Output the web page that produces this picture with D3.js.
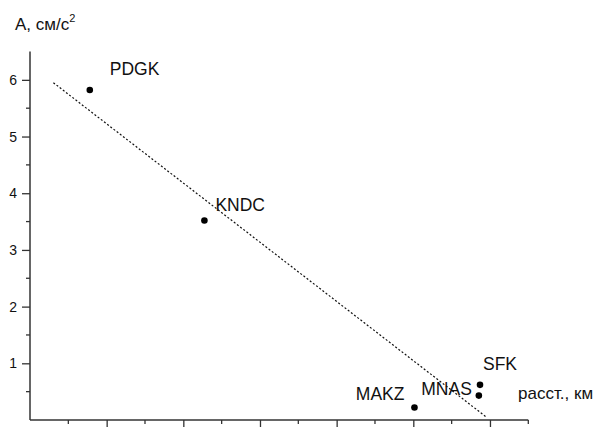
<!DOCTYPE html>
<html>
<head>
<meta charset="utf-8">
<script src="https://cdn.jsdelivr.net/npm/d3@7"></script>
<style>
  body { margin: 0; background: #fff; }
  svg { display: block; font-family: "Liberation Sans", Arial, sans-serif; }
</style>
</head>
<body>
<div id="chart"></div>
<script>
// stations: distance (km) and amplitude (cm/s^2)
const stations = ['PDGK', 'KNDC', 'MAKZ', 'SFK', 'MNAS'];
const distance = [15.6, 45.5, 100.3, 117.4, 117.1];
const amplitude = [5.82, 3.52, 0.22, 0.62, 0.43];
// label offsets per station (px), anchor
const labelDx = [20, 11, -10, 3, -7];
const labelDy = [-15, -9, -8, -15, -1];
const labelAnchor = ['start', 'start', 'end', 'start', 'end'];

// trend line end points
const trendX = [6.1, 118.9];
const trendY = [5.95, 0.06];

const yTicks = [1, 2, 3, 4, 5, 6];
const yMinor = [0.5, 1.5, 2.5, 3.5, 4.5, 5.5];
const xMajor = [20, 40, 60, 80, 100, 120];
const xMinor = [10, 30, 50, 70, 90, 110, 130];

const width = 608, height = 431;
const x0 = 30, y0 = 420;

const svg = d3.select('#chart').append('svg')
    .attr('width', width)
    .attr('height', height);

const x = d3.scaleLinear().domain([0, 130]).range([x0, 528.3]);
const y = d3.scaleLinear().domain([0, 6.5]).range([y0, 51.5]);

const axisColor = '#333';

// Y axis
const yAxis = svg.append('g')
    .attr('transform', `translate(${x0},0)`)
    .call(d3.axisLeft(y).tickValues(yTicks).tickSize(8).tickPadding(5).tickFormat(d3.format('d')));
yAxis.select('.domain').attr('stroke', axisColor).attr('stroke-width', 1.5)
    .attr('d', `M0,${y(6.5)}V${y0}`);
yAxis.selectAll('.tick line').attr('stroke', axisColor).attr('stroke-width', 1.3);
yAxis.selectAll('.tick text')
    .attr('fill', '#111')
    .style('font-size', '14px')
    .style('font-family', '"Liberation Sans", Arial, sans-serif');

svg.append('g')
    .selectAll('line')
    .data(yMinor)
    .enter()
    .append('line')
    .attr('x1', x0 - 4).attr('x2', x0)
    .attr('y1', d => y(d)).attr('y2', d => y(d))
    .attr('stroke', axisColor)
    .attr('stroke-width', 1.3);

// X axis (no labels)
const xAxis = svg.append('g')
    .attr('transform', `translate(0,${y0})`)
    .call(d3.axisBottom(x).tickValues(xMajor).tickSize(7).tickFormat(''));
xAxis.select('.domain').attr('stroke', axisColor).attr('stroke-width', 1.5)
    .attr('d', `M${x0},0H${x(130)}`);
xAxis.selectAll('.tick line').attr('stroke', axisColor).attr('stroke-width', 1.3);

svg.append('g')
    .selectAll('line')
    .data(xMinor)
    .enter()
    .append('line')
    .attr('x1', d => x(d)).attr('x2', d => x(d))
    .attr('y1', y0).attr('y2', y0 + 4)
    .attr('stroke', axisColor)
    .attr('stroke-width', 1.3);

// trend line
svg.append('line')
    .attr('x1', x(trendX[0])).attr('y1', y(trendY[0]))
    .attr('x2', x(trendX[1])).attr('y2', y(trendY[1]))
    .attr('stroke', '#111')
    .attr('stroke-width', 1.2)
    .attr('stroke-dasharray', '2,2');

// points
svg.append('g')
    .selectAll('circle')
    .data(stations)
    .enter()
    .append('circle')
    .attr('cx', (d, i) => x(distance[i]))
    .attr('cy', (d, i) => y(amplitude[i]))
    .attr('r', 3.3)
    .attr('fill', '#000');

// station labels
svg.append('g')
    .selectAll('text')
    .data(stations)
    .enter()
    .append('text')
    .attr('x', (d, i) => x(distance[i]) + labelDx[i])
    .attr('y', (d, i) => y(amplitude[i]) + labelDy[i])
    .attr('text-anchor', (d, i) => labelAnchor[i])
    .attr('fill', '#111')
    .style('font-size', '17.5px')
    .text(d => d);

// axis titles
const yTitle = svg.append('text')
    .attr('x', 15)
    .attr('y', 30)
    .attr('fill', '#111')
    .style('font-size', '17px');
yTitle.append('tspan').text('A, см/с');
yTitle.append('tspan')
    .attr('dy', -8)
    .style('font-size', '11px')
    .text('2');

svg.append('text')
    .attr('x', 518)
    .attr('y', 399)
    .attr('fill', '#111')
    .style('font-size', '17px')
    .text('расст., км');
</script>
</body>
</html>
